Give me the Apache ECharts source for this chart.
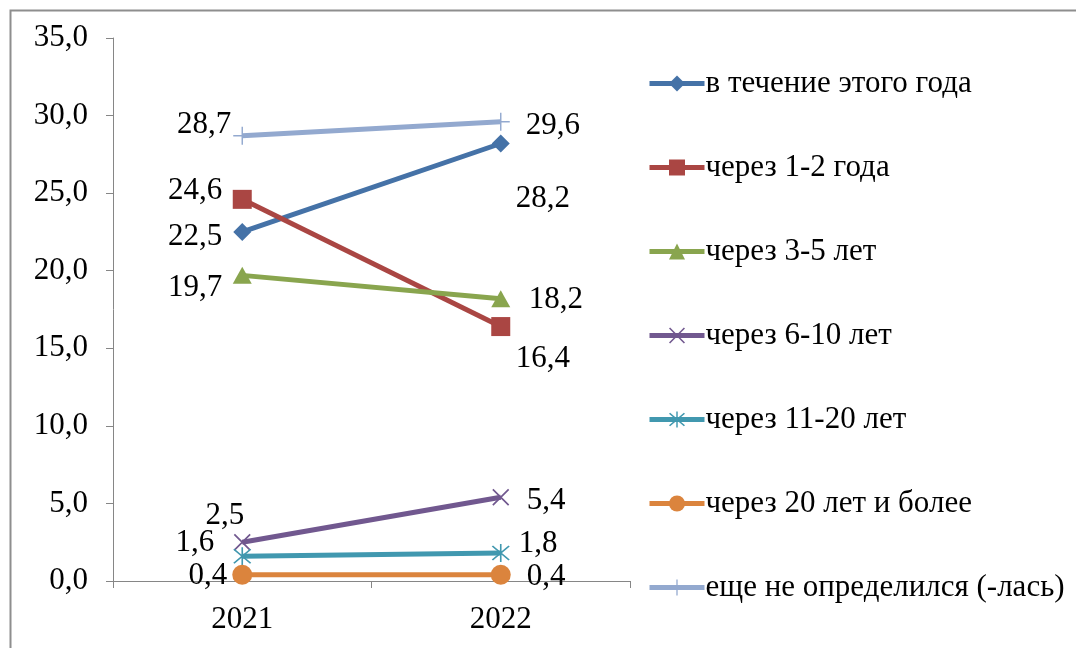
<!DOCTYPE html>
<html><head><meta charset="utf-8">
<script src="https://cdn.jsdelivr.net/npm/echarts@6/dist/echarts.min.js"></script>
<style>html,body{margin:0;padding:0;background:#fff}#c{width:1076px;height:648px}</style>
</head><body><div id="c"></div>
<script>
const categories = ['2021', '2022'];
const seriesNames = ['в течение этого года', 'через 1-2 года', 'через 3-5 лет', 'через 6-10 лет', 'через 11-20 лет', 'через 20 лет и более', 'еще не определился (-лась)'];
const vThisYear = [22.5, 28.2];
const v1to2 = [24.6, 16.4];
const v3to5 = [19.7, 18.2];
const v6to10 = [2.5, 5.4];
const v11to20 = [1.6, 1.8];
const v20plus = [0.4, 0.4];
const vUndecided = [28.7, 29.6];
const yTicks = [0, 5, 10, 15, 20, 25, 30, 35];

const values = [vThisYear, v1to2, v3to5, v6to10, v11to20, v20plus, vUndecided];
const colors = ['#4572A7', '#AA4643', '#89A54E', '#71588F', '#4198AF', '#DB843D', '#93A9CF'];
const X = 'path://M-10,-8.6L-8.6,-10L10,8.6L8.6,10Z M8.6,-10L10,-8.6L-8.6,10L-10,8.6Z';
const STAR = 'path://M-10,-8.6L-8.6,-10L10,8.6L8.6,10Z M8.6,-10L10,-8.6L-8.6,10L-10,8.6Z M-0.9,-12L0.9,-12L0.9,12L-0.9,12Z';
const PLUS = 'path://M-0.8,-10L0.8,-10L0.8,10L-0.8,10Z M-10,-0.8L10,-0.8L10,0.8L-10,0.8Z';
const symbols = ['diamond', 'rect', 'triangle', X, STAR, 'circle', PLUS];
const symSizes = [[18, 18], [19, 19], [19, 17], [17, 17], [18, 18], [20, 20], [18, 18]];
// label layout per series per point: [align, dx, dy]
const labelLayout = [
  [['right', -20, 5], ['left', 15, 55]],
  [['right', -20, -8], ['left', 15, 32]],
  [['right', -20, 12], ['left', 28, 1]],
  [['right', 2, -26], ['left', 26, 4]],
  [['right', -28, -13], ['left', 18, -9]],
  [['right', -15, 1], ['left', 26, 2]],
  [['right', -11, -11], ['left', 25, 4]]
];
const FONT = "'Liberation Serif', 'Times New Roman', serif";
const FS = 31;
const fmt = v => v.toFixed(1).replace('.', ',');

const series = seriesNames.map((name, i) => ({
  name: name,
  type: 'line',
  data: values[i].map((v, j) => ({
    value: v,
    label: {
      show: true,
      position: 'inside',
      align: labelLayout[i][j][0],
      verticalAlign: 'middle',
      offset: [labelLayout[i][j][1], labelLayout[i][j][2]]
    }
  })),
  symbol: symbols[i],
  symbolSize: symSizes[i],
  color: colors[i],
  lineStyle: { width: 5, color: colors[i] },
  itemStyle: { color: colors[i] },
  label: {
    formatter: p => fmt(p.value),
    fontFamily: FONT, fontSize: FS, color: '#000'
  },
  emphasis: { disabled: true },
  animation: false
}));

const chart = echarts.init(document.getElementById('c'));
chart.setOption({
  backgroundColor: '#fff',
  animation: false,
  graphic: [{
    type: 'rect', left: 8, top: 8,
    shape: { x: 0, y: 0, width: 1200, height: 1000 },
    style: { fill: 'none', stroke: '#8e8e8e', lineWidth: 2 },
    silent: true
  }],
  grid: { left: 113, right: 446, top: 38, bottom: 67 },
  legend: {
    orient: 'vertical',
    left: 647, top: 68, padding: 0,
    itemWidth: 55, itemHeight: 20, itemGap: 53,
    data: seriesNames,
    lineStyle: { width: 5 },
    textStyle: { fontFamily: FONT, fontSize: FS, color: '#000', lineHeight: 30, padding: [0, 0, 0, -4] }
  },
  xAxis: {
    type: 'category',
    data: categories,
    boundaryGap: true,
    axisLine: { lineStyle: { color: '#868686', width: 1 } },
    axisTick: { show: true, length: 7, lineStyle: { color: '#868686' } },
    axisLabel: { fontFamily: FONT, fontSize: FS, color: '#000', margin: 23 }
  },
  yAxis: {
    type: 'value',
    min: yTicks[0], max: yTicks[yTicks.length - 1], interval: 5,
    axisLine: { show: true, lineStyle: { color: '#868686', width: 1 } },
    axisTick: { show: true, length: 7, lineStyle: { color: '#868686' } },
    splitLine: { show: false },
    axisLabel: { fontFamily: FONT, fontSize: FS, color: '#000', margin: 25, formatter: v => fmt(v) }
  },
  series: series
});
</script></body></html>
